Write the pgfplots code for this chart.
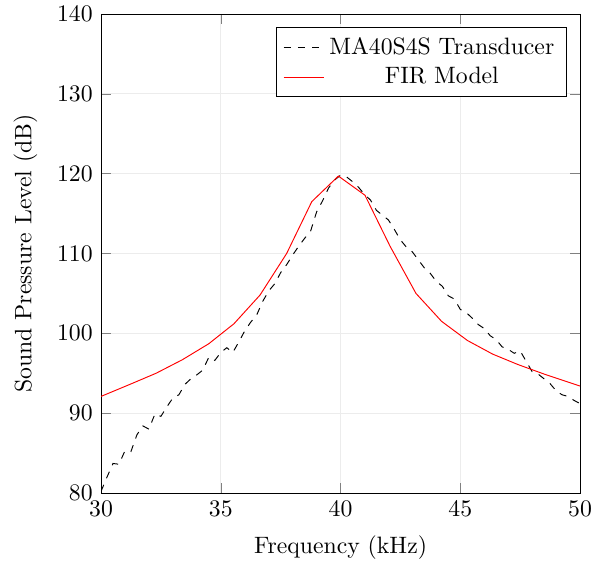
\documentclass[border=0pt]{standalone}
\usepackage{pgfplots}
\pgfplotsset{compat=1.18}
\begin{document}
\begin{tikzpicture}
\begin{axis}[
  scale only axis,
  width=202pt, height=202pt,
  xmin=30, xmax=50, ymin=80, ymax=140,
  xtick={30,35,40,45,50},
  ytick={80,90,100,110,120,130,140},
  grid=major,
  major grid style={gray!15},
  xlabel={Frequency (kHz)},
  ylabel={Sound Pressure Level (dB)},
  xlabel style={yshift=-1pt},
  ylabel style={yshift=1.5pt},
  legend style={at={(0.972,0.972)}, anchor=north east},
  legend cell align=center,
]
\addplot[black, dashed] coordinates {
(30.0,80.2) (30.25,82.0) (30.5,83.7) (30.75,83.6) (31.0,85.3) (31.25,85.2)
(31.5,87.3) (31.75,88.4) (32.0,88.0) (32.25,89.9) (32.5,89.6) (32.75,90.8)
(33.0,91.9) (33.25,92.3) (33.5,93.6) (33.75,94.3) (34.0,94.8) (34.25,95.4)
(34.5,97.0) (34.75,96.6) (35.0,97.6) (35.25,98.2) (35.5,97.6) (35.75,98.9)
(36.0,100.3) (36.25,101.4) (36.5,102.3) (36.75,104.0) (37.0,105.3) (37.25,106.2)
(37.5,107.6) (37.75,108.6) (38.0,109.8) (38.25,110.9) (38.5,111.9) (38.75,112.8)
(39.0,115.2) (39.25,116.6) (39.5,118.2) (39.75,119.2) (40.0,119.8) (40.25,119.6)
(40.5,119.0) (40.75,118.3) (41.0,117.4) (41.25,116.7) (41.5,115.4) (41.75,114.8)
(42.0,114.2) (42.25,113.0) (42.5,111.7) (42.75,110.8) (43.0,110.2) (43.25,109.2)
(43.5,108.2) (43.75,107.5) (44.0,106.5) (44.25,105.9) (44.5,104.7) (44.75,104.3)
(45.0,103.0) (45.25,102.6) (45.5,101.9) (45.75,101.1) (46.0,100.6) (46.25,99.7)
(46.5,99.2) (46.75,98.3) (47.0,98.0) (47.25,97.5) (47.5,97.8) (47.75,96.5)
(48.0,95.2) (48.25,94.9) (48.5,94.3) (48.75,93.7) (49.0,92.8) (49.25,92.3)
(49.5,92.1) (49.75,91.6) (50.0,91.2)
};
\addlegendentry{MA40S4S Transducer}
\addplot[red] coordinates {
(30.0,92.1) (31.2,93.6) (32.3,95.0) (33.4,96.7) (34.5,98.7) (35.55,101.2)
(36.64,104.8) (37.75,110.0) (38.8,116.5) (39.91,119.7) (41.02,117.3)
(42.07,110.9) (43.15,105.0) (44.22,101.5) (45.3,99.1) (46.35,97.4)
(47.4,96.1) (48.5,94.9) (49.6,93.8) (50.0,93.4)
};
\addlegendentry{FIR Model}
\end{axis}
\pgfresetboundingbox
\path ([shift={(-42.6pt,-29.5pt)}]current axis.south west) rectangle ([shift={(13.9pt,5.9pt)}]current axis.north east);
\end{tikzpicture}
\end{document}
